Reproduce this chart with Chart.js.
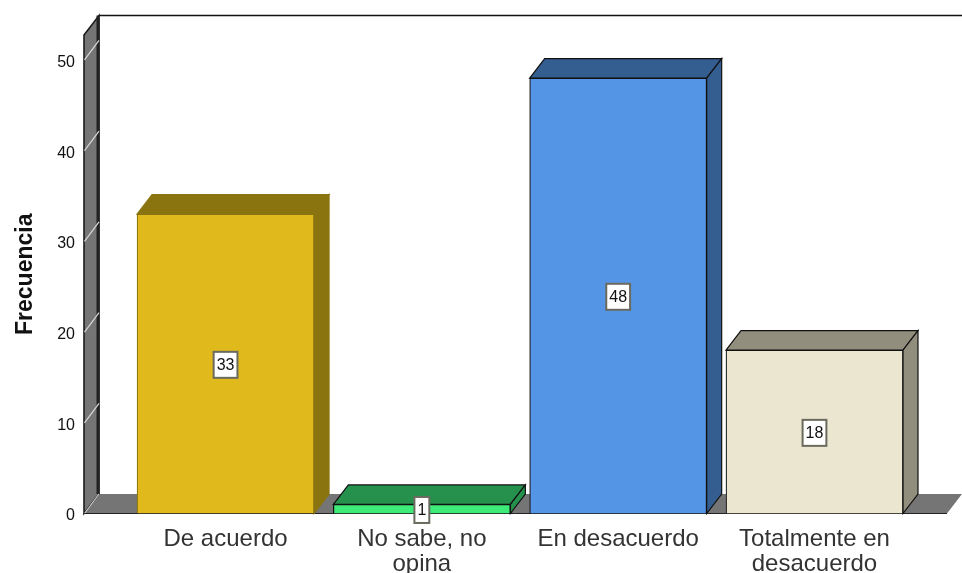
<!DOCTYPE html>
<html>
<head>
<meta charset="utf-8">
<style>
  html, body { margin: 0; padding: 0; background: #fff; }
  canvas { display: block; }
</style>
<script src="https://cdn.jsdelivr.net/npm/chart.js@4/dist/chart.umd.min.js"></script>
</head>
<body>
<canvas id="chart" width="962" height="573"></canvas>
<script>
const categories = [['De acuerdo'], ['No sabe, no', 'opina'], ['En desacuerdo'], ['Totalmente en', 'desacuerdo']];
const values = [33, 1, 48, 18];
const yTicks = [0, 10, 20, 30, 40, 50];

const frontColors = ['#E0BA1C', '#3DEB78', '#5595E6', '#EBE6D0'];
const topColors = ['#8A7410', '#26904D', '#345D90', '#918E7D'];
const edgeColors = ['#8A7410', '#111111', '#111111', '#111111'];

// 3D depth of the picture
const depthX = 15;
const depthY = 19.5;

function poly(ctx, pts, fill, stroke, lw) {
    ctx.beginPath();
    pts.forEach((p, i) => i ? ctx.lineTo(p[0], p[1]) : ctx.moveTo(p[0], p[1]));
    ctx.closePath();
    if (fill) { ctx.fillStyle = fill; ctx.fill(); }
    if (stroke) { ctx.strokeStyle = stroke; ctx.lineWidth = lw || 1; ctx.stroke(); }
}

const depthPlugin = {
    id: 'depth',
    beforeDatasetsDraw(chart) {
        const ctx = chart.ctx;
        const a = chart.chartArea;
        const y = chart.scales.y;
        ctx.save();
        // back edge on top
        ctx.strokeStyle = '#111';
        ctx.lineWidth = 1.5;
        ctx.beginPath();
        ctx.moveTo(a.left + depthX, a.top - depthY);
        ctx.lineTo(962, a.top - depthY);
        ctx.stroke();
        // floor
        poly(ctx, [[a.left, a.bottom], [a.left + depthX, a.bottom - depthY], [962, a.bottom - depthY], [a.right, a.bottom]], '#757575');
        // left wall
        poly(ctx, [[a.left, a.top], [a.left + depthX, a.top - depthY], [a.left + depthX, a.bottom - depthY], [a.left, a.bottom]], '#757575', '#1c1c1c', 1.6);
        ctx.strokeStyle = '#222';
        ctx.lineWidth = 3;
        ctx.beginPath();
        ctx.moveTo(a.left + depthX - 1, a.top - depthY);
        ctx.lineTo(a.left + depthX - 1, a.bottom - depthY);
        ctx.stroke();
        // light tick marks on the wall
        ctx.strokeStyle = '#d8d8d8';
        ctx.lineWidth = 1.2;
        yTicks.forEach(t => {
            const py = y.getPixelForValue(t);
            ctx.beginPath();
            ctx.moveTo(a.left + 0.5, py);
            ctx.lineTo(a.left + depthX, py - depthY);
            ctx.stroke();
        });
        // axis line at the floor front
        ctx.strokeStyle = '#222';
        ctx.lineWidth = 1;
        ctx.beginPath();
        ctx.moveTo(a.left, a.bottom);
        ctx.lineTo(a.right, a.bottom);
        ctx.stroke();
        // top and side of the bars
        chart.getDatasetMeta(0).data.forEach((bar, i) => {
            const l = bar.x - bar.width / 2;
            const r = bar.x + bar.width / 2;
            const t = bar.y;
            const b = bar.base;
            poly(ctx, [[l, t], [l + depthX, t - depthY], [r + depthX, t - depthY], [r, t]], topColors[i], edgeColors[i], 1.2);
            poly(ctx, [[r, t], [r + depthX, t - depthY], [r + depthX, b - depthY], [r, b]], topColors[i], edgeColors[i], 1.2);
        });
        ctx.restore();
    },
    afterDatasetsDraw(chart) {
        // value boxes in the middle of each bar
        const ctx = chart.ctx;
        ctx.save();
        ctx.font = '16px "Liberation Sans"';
        ctx.textAlign = 'center';
        ctx.textBaseline = 'middle';
        chart.getDatasetMeta(0).data.forEach((bar, i) => {
            const cy = (bar.y + bar.base) / 2 + 1;
            const label = String(values[i]);
            const w = ctx.measureText(label).width + 6;
            const h = 26;
            ctx.fillStyle = '#fff';
            ctx.strokeStyle = '#6a6a5e';
            ctx.lineWidth = 2;
            ctx.fillRect(bar.x - w / 2, cy - h / 2, w, h);
            ctx.strokeRect(bar.x - w / 2, cy - h / 2, w, h);
            ctx.fillStyle = '#111';
            ctx.fillText(label, bar.x, cy + 1);
        });
        ctx.restore();
    }
};

new Chart(document.getElementById('chart'), {
    type: 'bar',
    data: {
        datasets: [{
            data: values.map((v, i) => ({ x: i, y: v })),
            backgroundColor: frontColors,
            borderColor: edgeColors,
            borderWidth: 1.2,
            barThickness: 177
        }]
    },
    options: {
        responsive: false,
        animation: false,
        layout: { padding: { top: 35, right: 15, left: 0, bottom: 0 } },
        plugins: { legend: { display: false }, tooltip: { enabled: false } },
        scales: {
            x: {
                type: 'linear',
                offset: false,
                min: -0.721,
                max: 3.675,
                afterFit(s) { s.height = 59.5; },
                afterBuildTicks(s) { s.ticks = categories.map((c, i) => ({ value: i })); },
                grid: { display: false },
                border: { display: false },
                ticks: {
                    autoSkip: false,
                    maxRotation: 0,
                    padding: 5,
                    color: '#333',
                    font: { family: '"Liberation Sans"', size: 24, lineHeight: 1.05 },
                    callback: v => categories[v]
                }
            },
            y: {
                min: 0,
                max: 52.75,
                afterFit(s) { s.width = 84; },
                afterBuildTicks(s) { s.ticks = yTicks.map(t => ({ value: t })); },
                grid: { display: false },
                border: { display: false },
                title: {
                    display: true,
                    text: 'Frecuencia',
                    color: '#111',
                    font: { family: '"Liberation Sans"', size: 23, weight: 'bold' },
                    padding: { top: 12, bottom: 0 }
                },
                ticks: {
                    padding: 1,
                    color: '#111',
                    font: { family: '"Liberation Sans"', size: 16, lineHeight: 0.31 },
                    // empty first line pushes the label a little below its tick
                    callback: v => ['', String(v)]
                }
            }
        }
    },
    plugins: [depthPlugin]
});
</script>
</body>
</html>
